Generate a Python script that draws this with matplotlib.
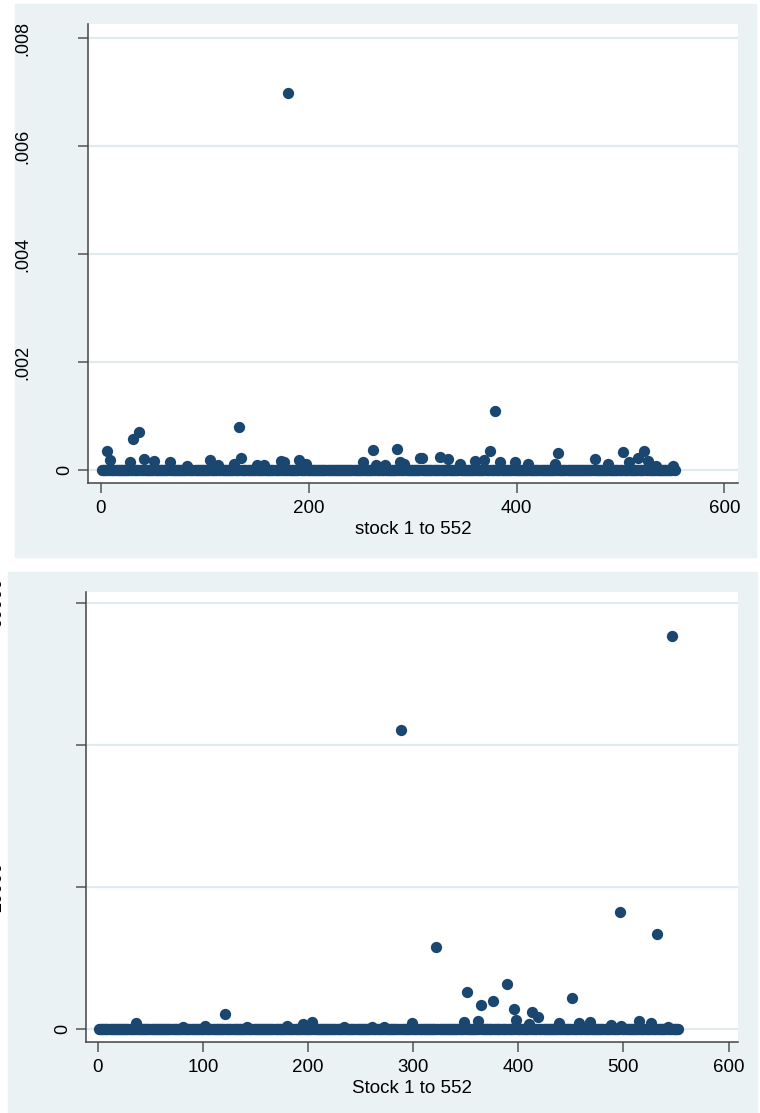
import numpy as np
import matplotlib.pyplot as plt
from matplotlib.patches import Rectangle

plt.rcParams['font.family'] = ['Liberation Sans', 'DejaVu Sans']

n_stocks = 552
stock = np.arange(1, n_stocks + 1)

# panel 1: stocks that stand out from the near-zero band (stock number, value)
top_idx = [6, 9, 28, 31, 37, 41, 51, 66, 83, 105, 113, 128, 133, 135, 150, 157,
           173, 176, 180, 191, 197, 252, 262, 265, 273, 285, 288, 292, 307, 309,
           326, 334, 345, 360, 369, 374, 379, 384, 398, 411, 437, 440, 475, 488,
           502, 508, 517, 523, 526, 534, 550]
top_val = [0.00036, 0.00018, 0.00015, 0.00057, 0.00071, 0.00020, 0.00017, 0.00014,
           0.00007, 0.00018, 0.00009, 0.00011, 0.00079, 0.00023, 0.00009, 0.00009,
           0.00017, 0.00014, 0.00698, 0.00018, 0.00012, 0.00015, 0.00037, 0.00009,
           0.00009, 0.00039, 0.00015, 0.00012, 0.00022, 0.00023, 0.00025, 0.00020,
           0.00012, 0.00017, 0.00018, 0.00036, 0.00109, 0.00015, 0.00015, 0.00012,
           0.00012, 0.00032, 0.00020, 0.00012, 0.00033, 0.00014, 0.00022, 0.00036,
           0.00017, 0.00007, 0.00007]

# panel 2
bot_idx = [36, 81, 102, 121, 142, 180, 195, 204, 234, 261, 272, 288, 299, 322,
           348, 351, 362, 364, 376, 389, 396, 398, 410, 413, 419, 439, 451, 458,
           468, 488, 497, 498, 515, 526, 532, 542, 546]
bot_val = [890, 330, 420, 2066, 330, 420, 700, 1030, 330, 330, 330, 42113, 845,
           11549, 1033, 5211, 1174, 3333, 3991, 6385, 2770, 1268, 704, 2441, 1643,
           893, 4413, 893, 1033, 563, 16526, 469, 1174, 798, 13427, 329, 55352]

top_y = np.zeros(n_stocks)
top_y[np.array(top_idx) - 1] = top_val
bot_y = np.zeros(n_stocks)
bot_y[np.array(bot_idx) - 1] = bot_val

top_ticks = [0, 0.002, 0.004, 0.006, 0.008]
top_labels = ['0', '.002', '.004', '.006', '.008']
bot_ticks = [0, 20000, 40000, 60000]
bot_labels = ['0', '20000', '40000', '60000']
x_ticks = [0, 200, 400, 600]
x_ticks_b = [0, 100, 200, 300, 400, 500, 600]

W, H = 760, 1113
navy = '#1a476f'
bg = '#eaf2f3'
grid_c = '#e2eaee'


def fig_box(x0, y0, x1, y1):
    # pixel box (top-left origin) to figure fractions
    return [x0 / W, 1 - y1 / H, (x1 - x0) / W, (y1 - y0) / H]


def text_em(s):
    return sum(0.278 if c == '.' else 0.556 for c in s)


def draw_panel(ax, y, yticks, ylabels, xticks, xlabel, xlim, ylim):
    ax.set_facecolor('white')
    ax.scatter(stock, y, s=66, color=navy, linewidths=0, zorder=3, clip_on=False)
    ax.set_xlim(*xlim)
    ax.set_ylim(*ylim)
    ax.set_xticks(xticks)
    ax.set_yticks(yticks)
    ax.set_yticklabels([])
    ax.yaxis.grid(True, color=grid_c, lw=1.6, zorder=0)
    ax.set_axisbelow(True)
    for side in ['top', 'right']:
        ax.spines[side].set_visible(False)
    for side in ['left', 'bottom']:
        ax.spines[side].set_color('#444444')
        ax.spines[side].set_linewidth(1.1)
    ax.tick_params(axis='both', direction='out', length=7, width=1.1,
                   color='#555555', labelsize=13.5, pad=5)
    ax.set_xlabel(xlabel, fontsize=13.5, labelpad=3)
    # vertical y labels, longer labels sit further from the axis
    ax_w = ax.get_position().width * W
    for t, lab in zip(yticks, ylabels):
        off = 23 + 30 * (text_em(lab) - 0.556)
        ax.text(-off / ax_w, t, lab, transform=ax.get_yaxis_transform(),
                rotation=90, ha='center', va='center', fontsize=13,
                clip_on=False)


fig = plt.figure(figsize=(W / 100, H / 100), dpi=100, facecolor='white')
fig.patches.append(Rectangle((15 / W, 1 - 557 / H), (756 - 15) / W, (557 - 4) / H,
                             transform=fig.transFigure, color=bg, zorder=-1))
fig.patches.append(Rectangle((8 / W, 0), (757 - 8) / W, (1113 - 572) / H,
                             transform=fig.transFigure, color=bg, zorder=-1))

ax1 = fig.add_axes(fig_box(88, 24, 738, 483))
draw_panel(ax1, top_y, top_ticks, top_labels, x_ticks, 'stock 1 to 552',
           (-12.5, 613), (-0.00024, 0.00826))

ax2 = fig.add_axes(fig_box(86, 592, 738, 1042))
draw_panel(ax2, bot_y, bot_ticks, bot_labels, x_ticks_b, 'Stock 1 to 552',
           (-11.4, 609), (-1831, 61549))

fig.savefig('out.png', dpi=100)
